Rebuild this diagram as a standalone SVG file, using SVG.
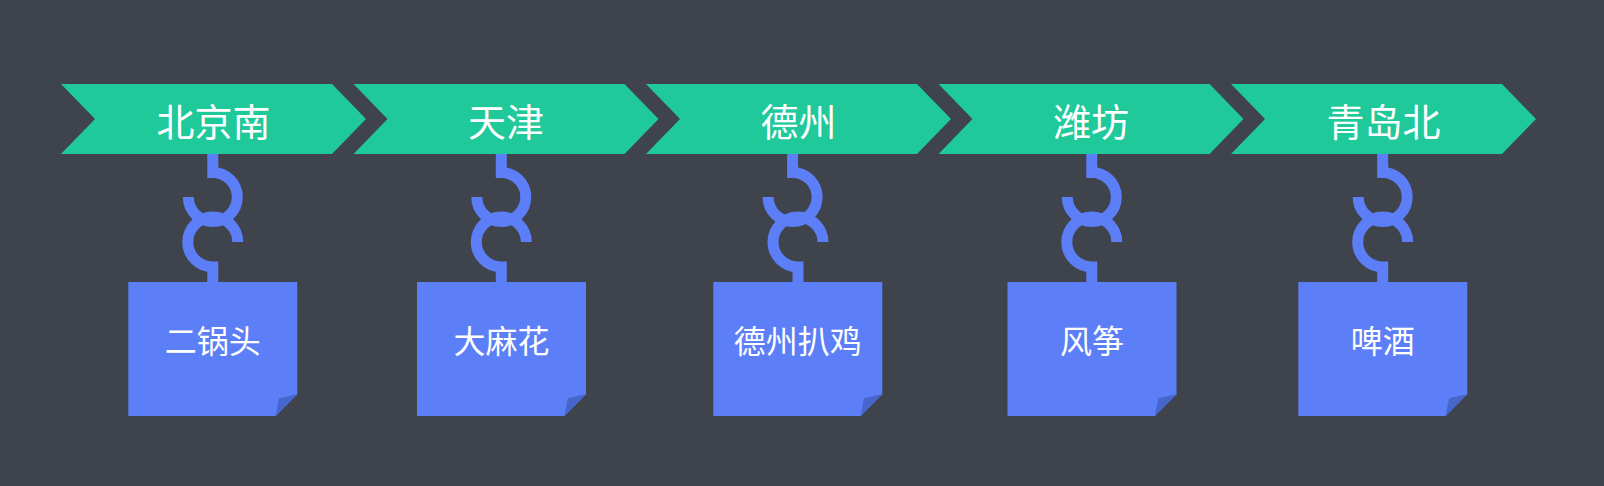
<svg xmlns="http://www.w3.org/2000/svg" width="1604" height="486" viewBox="0 0 1604 486">
<style>
.bg{fill:#3f434c}
.chev{fill:#1fc99a}
.note{fill:#5c7ef7}
.fold{fill:#4766cc}
.hook{fill:none;stroke:#5c7ef7;stroke-width:11;stroke-linecap:butt}
.lbl{font-family:"Noto Sans CJK SC","Noto Sans",sans-serif;fill:#ffffff;text-anchor:middle;dominant-baseline:central}
.t1{font-size:38px}
.t2{font-size:32px}
</style>
<rect class="bg" x="0" y="0" width="1604" height="486"/>
<g id="stations">
<g id="station1"><path class="chev" d="M61,84 H332 L366,119 L332,154 H61 L95,119 Z"/><text class="lbl t1" x="213.5" y="119">北京南</text></g>
<g id="station2"><path class="chev" d="M353.5,84 H624.5 L658.5,119 L624.5,154 H353.5 L387.5,119 Z"/><text class="lbl t1" x="506" y="119">天津</text></g>
<g id="station3"><path class="chev" d="M646,84 H917 L951,119 L917,154 H646 L680,119 Z"/><text class="lbl t1" x="798.5" y="119">德州</text></g>
<g id="station4"><path class="chev" d="M938.5,84 H1209.5 L1243.5,119 L1209.5,154 H938.5 L972.5,119 Z"/><text class="lbl t1" x="1091" y="119">潍坊</text></g>
<g id="station5"><path class="chev" d="M1231,84 H1502 L1536,119 L1502,154 H1231 L1265,119 Z"/><text class="lbl t1" x="1383.5" y="119">青岛北</text></g>
</g>
<g id="connectors">
<path class="hook" d="M212.8,154 V172.5 A24.5 24.5 0 1 1 188.3,197"/>
<path class="hook" d="M237.8,242 A25 25 0 1 0 212.8,267 V283"/>
<path class="hook" d="M501.3,154 V172.5 A24.5 24.5 0 1 1 476.8,197"/>
<path class="hook" d="M526.3,242 A25 25 0 1 0 501.3,267 V283"/>
<path class="hook" d="M792.6,154 V172.5 A24.5 24.5 0 1 1 768.1,197"/>
<path class="hook" d="M823,242 A25 25 0 1 0 798,267 V283"/>
<path class="hook" d="M1091.8,154 V172.5 A24.5 24.5 0 1 1 1067.3,197"/>
<path class="hook" d="M1116.8,242 A25 25 0 1 0 1091.8,267 V283"/>
<path class="hook" d="M1382.7,154 V172.5 A24.5 24.5 0 1 1 1358.2,197"/>
<path class="hook" d="M1407.7,242 A25 25 0 1 0 1382.7,267 V283"/>
</g>
<g id="note1"><path class="note" d="M128.3,282 H297.3 V394.3 L275.7,416 H128.3 Z"/><path class="fold" d="M275.7,416 L279,398.3 L297.3,394.3 Z"/><text class="lbl t2" x="212.8" y="339">二锅头</text></g>
<g id="note2"><path class="note" d="M417,282 H586 V394.3 L564.4,416 H417 Z"/><path class="fold" d="M564.4,416 L567.7,398.3 L586,394.3 Z"/><text class="lbl t2" x="501.5" y="339">大麻花</text></g>
<g id="note3"><path class="note" d="M713.3,282 H882.3 V394.3 L860.7,416 H713.3 Z"/><path class="fold" d="M860.7,416 L864,398.3 L882.3,394.3 Z"/><text class="lbl t2" x="797.8" y="339">德州扒鸡</text></g>
<g id="note4"><path class="note" d="M1007.5,282 H1176.5 V394.3 L1154.9,416 H1007.5 Z"/><path class="fold" d="M1154.9,416 L1158.2,398.3 L1176.5,394.3 Z"/><text class="lbl t2" x="1092" y="339">风筝</text></g>
<g id="note5"><path class="note" d="M1298.3,282 H1467.3 V394.3 L1445.7,416 H1298.3 Z"/><path class="fold" d="M1445.7,416 L1449,398.3 L1467.3,394.3 Z"/><text class="lbl t2" x="1382.8" y="339">啤酒</text></g>
</svg>
